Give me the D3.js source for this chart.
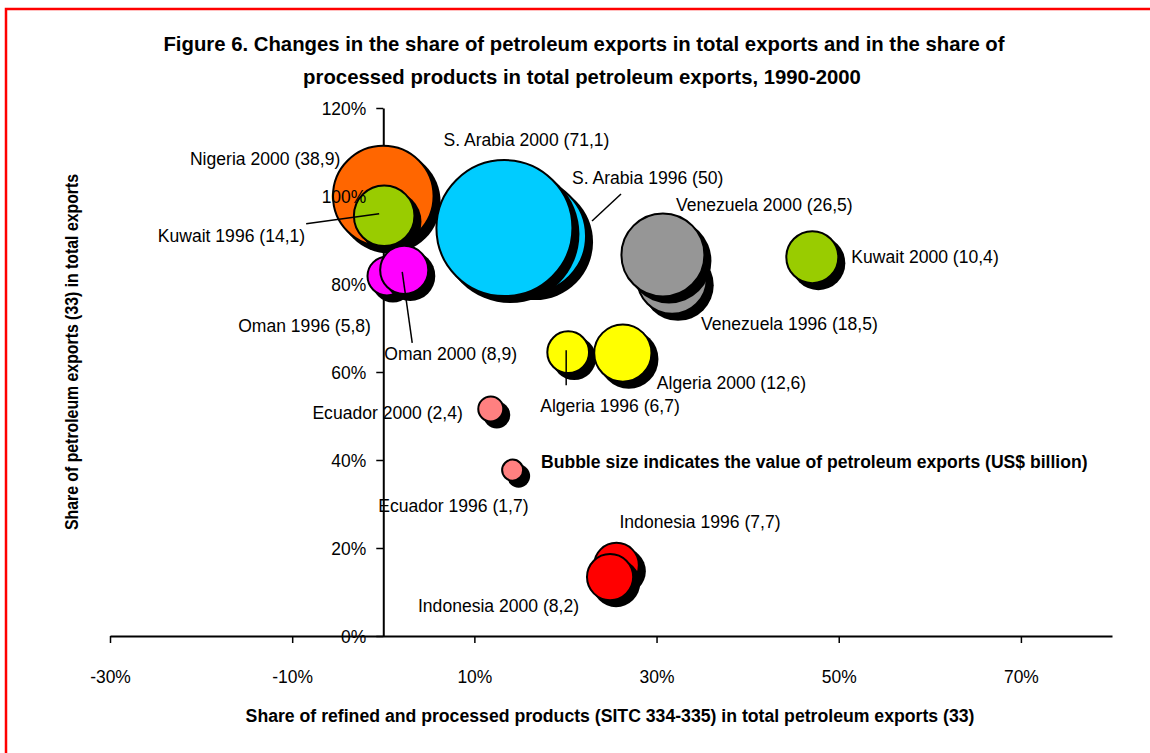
<!DOCTYPE html>
<html>
<head>
<meta charset="utf-8">
<script src="https://cdn.jsdelivr.net/npm/d3@7/dist/d3.min.js"></script>
<style>
body { margin: 0; background: #fff; }
svg text { font-family: "Liberation Sans", Arial, sans-serif; fill: #000; }
</style>
</head>
<body>
<svg id="chart" width="1150" height="753"></svg>
<script>
// bubbles, in drawing order (later ones sit on top)
const countries = ["Nigeria", "Kuwait", "Oman", "Oman", "S. Arabia", "S. Arabia", "Venezuela", "Venezuela", "Kuwait", "Algeria", "Algeria", "Ecuador", "Ecuador", "Indonesia", "Indonesia"]
const years = ["2000", "1996", "1996", "2000", "1996", "2000", "1996", "2000", "2000", "1996", "2000", "2000", "1996", "1996", "2000"]
const refinedShare = [0, 0.1, 0.4, 2.3, 16.0, 13.3, 31.7, 30.7, 47.1, 20.3, 26.3, 11.8, 14.2, 25.6, 24.9]
const petroleumShare = [100, 95.5, 81.8, 83.2, 90.9, 92.7, 81.1, 86.6, 86.1, 64.5, 64.3, 51.6, 37.7, 16.1, 13.4]
const exportValue = [38.9, 14.1, 5.8, 8.9, 50, 71.1, 18.5, 26.5, 10.4, 6.7, 12.6, 2.4, 1.7, 7.7, 8.2]
const countryColors = {
  "Nigeria": "#FF6600", "Kuwait": "#99CC00", "Oman": "#FF00FF", "S. Arabia": "#00CCFF",
  "Venezuela": "#969696", "Algeria": "#FFFF00", "Ecuador": "#FF8080", "Indonesia": "#FF0000"
}
const xTicks = [-30, -10, 10, 30, 50, 70]
const yTicks = [0, 20, 40, 60, 80, 100, 120]

const titleLines = ["Figure 6. Changes in the share of petroleum exports in total exports and in the share of",
  "processed products in total petroleum exports, 1990-2000"]
const xTitle = "Share of refined and processed products (SITC 334-335) in total petroleum exports (33)"
const yTitle = "Share of petroleum exports (33) in total exports"
const note = "Bubble size indicates the value of petroleum exports (US$ billion)"

// label placement: anchor, offset from bubble centre (px), optional leader line offsets
const labelPos = [
  ["end", -43, -31], ["end", -79, 26, [-78, 8, -5, -2]], ["end", -16, 56], ["start", -20, 90, [8, 73, -2, 2]],
  ["start", 43, -52, [92, -42, 63, -15]], ["middle", 22, -82], ["start", 29, 51], ["start", 13, -44],
  ["start", 39, 6], ["start", -28, 60, [-2, -2, -2, 33]], ["start", 34, 36], ["end", -28, 10],
  ["end", 16, 42], ["start", 3, -37], ["end", -31, 35]
]

const svg = d3.select("#chart")
const fmt = v => String(v).replace(".", ",")

function txt(parent, s, x, y, o) {
  return parent.append("text")
    .attr("transform", `translate(${x},${y})${o.rotate ? " rotate(-90)" : ""} scale(${o.sx || 1},1)`)
    .attr("text-anchor", o.anchor || "start")
    .style("font-size", o.size + "px")
    .style("font-weight", o.bold ? "bold" : "normal")
    .text(s)
}

// red frame
svg.append("rect").attr("x", 6).attr("y", 9).attr("width", 1160).attr("height", 760)
  .attr("fill", "none").attr("stroke", "#FF0000").attr("stroke-width", 2.5)

const x = d3.scaleLinear().domain([-30, 80]).range([110, 1112])
const y = d3.scaleLinear().domain([0, 120]).range([636, 108])
const r = d3.scaleSqrt().domain([0, 71.1]).range([0, 68])

function styleAxis(g) {
  g.select(".domain").attr("stroke", "#000").attr("stroke-width", 2)
  g.selectAll(".tick line").attr("stroke", "#000").attr("stroke-width", 1.5)
  g.selectAll(".tick text").attr("font-family", null).attr("font-size", null)
    .style("font-size", "18px").attr("fill", "#000")
}

// axes (lines under the bubbles)
const gx = svg.append("g").attr("transform", `translate(0,${y(0)})`)
  .call(d3.axisBottom(x).tickValues(xTicks).tickSize(7).tickSizeOuter(0).tickFormat(d => d + "%"))
const gy = svg.append("g").attr("transform", `translate(${x(0)},0)`)
  .call(d3.axisLeft(y).tickValues(yTicks).tickSize(7).tickSizeOuter(0).tickFormat(d => d + "%"))
styleAxis(gx)
styleAxis(gy)
gx.selectAll(".tick text").attr("y", 0).attr("dy", null).attr("transform", "translate(0,47) scale(0.97,1)")
gy.selectAll(".tick text").remove()

// bubbles
const plot = svg.append("g")
exportValue.forEach((v, i) => {
  const cx = x(refinedShare[i]), cy = y(petroleumShare[i]), rr = r(v)
  plot.append("circle").attr("cx", cx + 6).attr("cy", cy + 6).attr("r", rr + 1).attr("fill", "#000")
  plot.append("circle").attr("cx", cx).attr("cy", cy).attr("r", rr)
    .attr("fill", countryColors[countries[i]]).attr("stroke", "#000").attr("stroke-width", 2)
})

// y tick labels drawn over the bubbles
const gyText = svg.append("g").attr("transform", `translate(${x(0)},0)`)
  .call(d3.axisLeft(y).tickValues(yTicks).tickSize(7).tickSizeOuter(0).tickFormat(d => d + "%"))
styleAxis(gyText)
gyText.select(".domain").remove()
gyText.selectAll(".tick line").remove()
gyText.selectAll(".tick text").attr("x", 0).attr("dy", null).attr("transform", "translate(-17,6) scale(0.97,1)")

// labels and leader lines
const labels = svg.append("g")
exportValue.forEach((v, i) => {
  const cx = x(refinedShare[i]), cy = y(petroleumShare[i])
  const [anchor, dx, dy, lead] = labelPos[i]
  txt(labels, `${countries[i]} ${years[i]} (${fmt(v)})`, cx + dx, cy + dy, { size: 18.5, sx: 0.95, anchor })
  if (lead) {
    labels.append("line").attr("x1", cx + lead[0]).attr("y1", cy + lead[1])
      .attr("x2", cx + lead[2]).attr("y2", cy + lead[3]).attr("stroke", "#000").attr("stroke-width", 1.5)
  }
})

// texts
txt(svg, titleLines[0], 584, 51, { size: 21, bold: true, sx: 0.968, anchor: "middle" })
txt(svg, titleLines[1], 582, 84, { size: 21, bold: true, sx: 0.968, anchor: "middle" })
txt(svg, xTitle, 610, 722, { size: 19, bold: true, sx: 0.93, anchor: "middle" })
txt(svg, yTitle, 78, 352, { size: 18, bold: true, sx: 0.88, anchor: "middle", rotate: true })
txt(svg, note, 541, 468, { size: 18.5, bold: true, sx: 0.95 })
</script>
</body>
</html>
